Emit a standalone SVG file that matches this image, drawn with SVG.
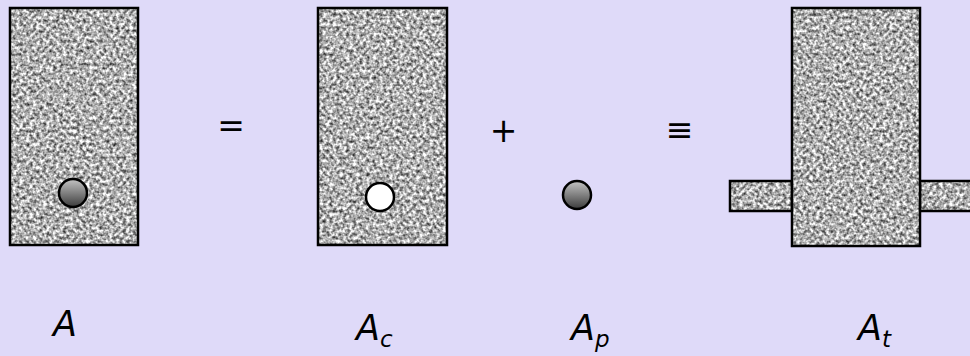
<svg xmlns="http://www.w3.org/2000/svg" width="970" height="356" viewBox="0 0 970 356">
<defs>
<style>
.box{fill:none;stroke:#000;stroke-width:2.5}
.op{font-family:"DejaVu Sans",sans-serif;font-size:33px;fill:#000;text-anchor:middle}
.lbl{font-family:"DejaVu Sans",sans-serif;font-style:italic;font-size:35px;fill:#000}
.sub{font-size:23px}
.ball{stroke:#000;stroke-width:2.5}
</style>
<filter id="noise" x="0" y="0" width="1" height="1" filterUnits="objectBoundingBox" color-interpolation-filters="sRGB">
<feTurbulence type="fractalNoise" baseFrequency="0.3" numOctaves="2" seed="7" result="t"/>
<feColorMatrix in="t" type="matrix" values="1.45 0 0 0 -0.04  1.45 0 0 0 -0.04  1.45 0 0 0 -0.04  0 0 0 0 1"/>
</filter>
<linearGradient id="gb" x1="0" y1="0" x2="0" y2="1">
<stop offset="0" stop-color="#c4c4c4"/>
<stop offset="1" stop-color="#3c3c3c"/>
</linearGradient>
</defs>
<rect width="970" height="356" fill="#dfdaf9"/>

<g id="nodeA">
<rect x="10" y="8" width="128" height="237" fill="#aaa" filter="url(#noise)"/>
<rect class="box" x="10" y="8" width="128" height="237"/>
<circle class="ball" cx="73" cy="193" r="14" fill="url(#gb)"/>
<text class="lbl" x="53" y="336">A</text>
</g>

<g id="opEq"><text class="op" x="231" y="137">=</text></g>

<g id="nodeAc">
<rect x="318" y="8" width="129" height="237" fill="#aaa" filter="url(#noise)"/>
<rect class="box" x="318" y="8" width="129" height="237"/>
<circle class="ball" cx="380" cy="197" r="14" fill="#fff"/>
<text class="lbl" x="356" y="340">A<tspan class="sub" dy="7">c</tspan></text>
</g>

<g id="opPlus"><text class="op" x="503.5" y="142">+</text></g>

<g id="nodeAp">
<circle class="ball" cx="577" cy="195" r="14" fill="url(#gb)"/>
<text class="lbl" x="571" y="340">A<tspan class="sub" dy="7">p</tspan></text>
</g>

<g id="opEquiv"><text class="op" x="679.5" y="141">≡</text></g>

<g id="nodeAt">
<rect x="730" y="181" width="62" height="30" fill="#aaa" filter="url(#noise)"/>
<rect class="box" x="730" y="181" width="62" height="30"/>
<rect x="920" y="181" width="60" height="30" fill="#aaa" filter="url(#noise)"/>
<rect class="box" x="920" y="181" width="60" height="30"/>
<rect x="792" y="8" width="128" height="238" fill="#aaa" filter="url(#noise)"/>
<rect class="box" x="792" y="8" width="128" height="238"/>
<text class="lbl" x="858" y="340">A<tspan class="sub" dy="7">t</tspan></text>
</g>

<g id="connectors"/>
</svg>
